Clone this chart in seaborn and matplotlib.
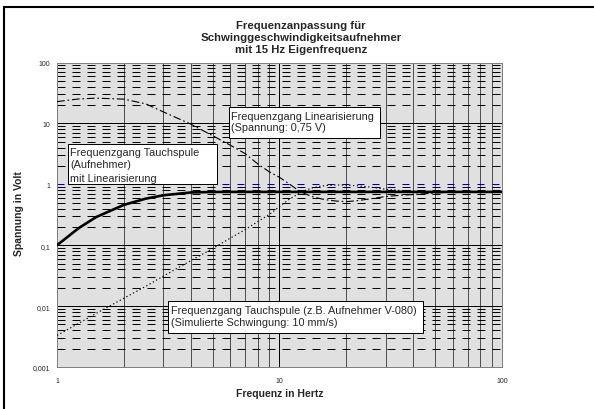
import numpy as np
import pandas as pd
import matplotlib
matplotlib.use("Agg")
import matplotlib.pyplot as plt
import seaborn as sns
from matplotlib.ticker import LogLocator, NullFormatter
from matplotlib.patches import Rectangle

# --- data -----------------------------------------------------------------
freq_hz = [1, 1.25, 1.5, 2, 2.5, 3, 4, 5, 6, 7, 8, 9, 10, 11, 12, 13, 14, 15,
           16, 18, 20, 22, 25, 30, 35, 40, 50, 60, 70, 80, 100]

# pickup with linearisation (solid)
v_linearised = [0.10, 0.19, 0.29, 0.46, 0.58, 0.66, 0.735, 0.748, 0.75, 0.75,
                0.75, 0.75, 0.75, 0.75, 0.75, 0.75, 0.75, 0.75, 0.75, 0.75,
                0.75, 0.75, 0.75, 0.75, 0.75, 0.75, 0.75, 0.75, 0.75, 0.75, 0.75]

# linearisation network (dash-dot)
v_linearisation = [22.8, 25.2, 26.0, 25.0, 21.0, 15.5, 9.7, 6.3, 4.4, 3.2,
                   2.15, 1.6, 1.3, 1.03, 0.82, 0.70, 0.63, 0.59, 0.56, 0.53,
                   0.52, 0.535, 0.57, 0.63, 0.66, 0.68, 0.72, 0.74, 0.75, 0.75, 0.75]

# moving coil pickup V-080, 10 mm/s (dotted)
v_coil = [0.0033, 0.0052, 0.0076, 0.0135, 0.021, 0.031, 0.056, 0.088, 0.13,
          0.18, 0.245, 0.32, 0.43, 0.56, 0.68, 0.79, 0.87, 0.92, 0.95, 0.975,
          0.97, 0.95, 0.91, 0.83, 0.79, 0.77, 0.755, 0.75, 0.75, 0.75, 0.75]

x_ticks = [1, 10, 100]
x_tick_labels = ["1", "10", "100"]
y_ticks = [0.001, 0.01, 0.1, 1, 10, 100]
y_tick_labels = ["0,001", "0,01", "0,1", "1", "10", "100"]

title = "Frequenzanpassung für\nSchwinggeschwindigkeitsaufnehmer\nmit 15 Hz Eigenfrequenz"
x_label = "Frequenz in Hertz"
y_label = "Spannung in Volt"

notes = [
    # (box left, top, right, bottom in px, text x, line y-centres, lines)
    (229, 108, 380, 139, 231, [116.5, 128],
     ["Frequenzgang Linearisierung", "(Spannung: 0,75 V)"]),
    (68, 145, 217, 185, 70.5, [152.5, 165.5, 179],
     ["Frequenzgang Tauchspule", "(Aufnehmer)", "mit Linearisierung"]),
    (168, 302, 423, 333.5, 171.5, [311.5, 323],
     ["Frequenzgang Tauchspule (z.B. Aufnehmer V-080)",
      "(Simulierte Schwingung: 10 mm/s)"]),
]

df = pd.DataFrame({
    "Frequenz": freq_hz,
    "linearisiert": v_linearised,
    "Linearisierung": v_linearisation,
    "Tauchspule": v_coil,
})

# --- figure ---------------------------------------------------------------
sns.set_style("white")
plt.rcParams["font.family"] = ["Liberation Sans", "DejaVu Sans"]

W, H = 594, 410
L, R, T, B = 57, 502, 63.5, 368
fig = plt.figure(figsize=(W / 100, H / 100), dpi=100)
fig.patch.set_facecolor("white")
ax = fig.add_axes([L / W, 1 - B / H, (R - L) / W, (B - T) / H])
ax.set_facecolor("#e0e0e0")


def to_axes(x, y):
    return (x - L) / (R - L), (B - y) / (B - T)


sns.lineplot(data=df, x="Frequenz", y="Tauchspule", ax=ax, color="black",
             lw=0.8, linestyle=(0, (1.2, 2.2)), zorder=3)
sns.lineplot(data=df, x="Frequenz", y="Linearisierung", ax=ax, color="black",
             lw=0.8, linestyle=(0, (7, 2.5, 1.5, 2.5)), zorder=3)
sns.lineplot(data=df, x="Frequenz", y="linearisiert", ax=ax, color="black",
             lw=1.9, zorder=4)

ax.set_xscale("log")
ax.set_yscale("log")
ax.set_xlim(1, 100)
ax.set_ylim(0.001, 100)
ax.set_xticks(x_ticks)
ax.set_xticklabels(x_tick_labels)
ax.set_yticks(y_ticks)
ax.set_yticklabels(y_tick_labels)
ax.xaxis.set_minor_locator(LogLocator(base=10, subs=np.arange(2, 10)))
ax.yaxis.set_minor_locator(LogLocator(base=10, subs=np.arange(2, 10)))
ax.xaxis.set_minor_formatter(NullFormatter())
ax.yaxis.set_minor_formatter(NullFormatter())
ax.set_xlabel("")
ax.set_ylabel("")

ax.tick_params(axis="x", which="major", length=0, pad=7, labelsize=5)
ax.tick_params(axis="y", which="major", length=4, width=0.72, color="black",
               direction="out", pad=1, labelsize=5)
ax.tick_params(which="minor", length=0)

ax.set_axisbelow(True)
ax.grid(which="major", axis="x", color="black", lw=0.72, ls="-")
ax.grid(which="minor", axis="x", color="#505050", lw=0.72, ls="-")
ax.grid(which="major", axis="y", color="black", lw=0.72, ls="-")
ax.grid(which="minor", axis="y", color="black", lw=0.72, ls=(0, (8, 7)))

# the 1 V gridline is drawn as a blue dashed line
for loc, tick in zip(y_ticks, ax.yaxis.get_major_ticks()):
    if loc == 1:
        tick.gridline.set_color("#000080")
        tick.gridline.set_linestyle((0, (7, 8)))

for side in ax.spines.values():
    side.set_color("#808080")
    side.set_linewidth(0.72)

# annotation boxes
for x0, y0, x1, y1, tx, ys, lines in notes:
    ax0, ay1 = to_axes(x0, y1)
    ax1, ay0 = to_axes(x1, y0)
    ax.add_patch(Rectangle((ax0, ay1), ax1 - ax0, ay0 - ay1,
                           transform=ax.transAxes, fc="white", ec="black",
                           lw=0.72, zorder=6))
    for yy, line in zip(ys, lines):
        px_, py_ = to_axes(tx, yy)
        ax.text(px_, py_, line, transform=ax.transAxes, ha="left",
                va="center", fontsize=7.8, zorder=7)

# titles and axis labels
fig.text(301 / W, 1 - 38 / H, title, ha="center", va="center",
         fontsize=8.2, fontweight="bold", linespacing=1.23)
fig.text(279.5 / W, 1 - 394 / H, x_label, ha="center", va="center",
         fontsize=7.5, fontweight="bold")
fig.text(19 / W, 1 - 214 / H, y_label, ha="center", va="center",
         fontsize=7.5, fontweight="bold", rotation=90)

# outer chart frame
fig.add_artist(Rectangle((4.3 / W, -0.5), 2.0, 0.5 + 1 - 8.3 / H,
                         transform=fig.transFigure, fill=False,
                         ec="black", lw=1.5, clip_on=False))

fig.savefig("out.png", dpi=100)
